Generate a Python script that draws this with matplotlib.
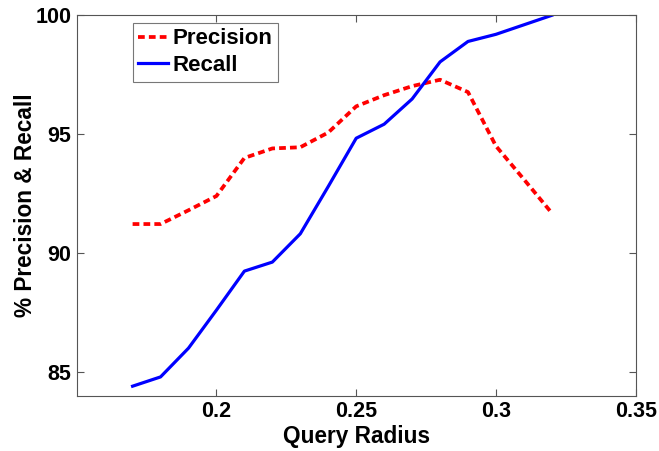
import matplotlib.pyplot as plt

plt.rcParams['font.family'] = ['Liberation Sans', 'DejaVu Sans']
plt.rcParams['font.weight'] = 'bold'
plt.rcParams['font.size'] = 15

radius = [0.17, 0.18, 0.19, 0.20, 0.21, 0.22, 0.23, 0.24,
          0.25, 0.26, 0.27, 0.28, 0.29, 0.30, 0.31, 0.32]
precision = [91.22, 91.22, 91.8, 92.4, 94.0, 94.4, 94.45, 95.07,
             96.17, 96.64, 97.02, 97.29, 96.77, 94.5, 93.1, 91.68]
recall = [84.4, 84.79, 86.0, 87.6, 89.24, 89.62, 90.81, 92.8,
          94.83, 95.42, 96.48, 98.04, 98.9, 99.2, 99.6, 100.0]

xticks = [0.2, 0.25, 0.3, 0.35]
xlabels = ['0.2', '0.25', '0.3', '0.35']
yticks = [85, 90, 95, 100]

fig = plt.figure(figsize=(6.59, 4.51), dpi=100)
ax = fig.add_axes([76.7 / 659, 1 - 395.7 / 451, 559 / 659, 380.4 / 451])

ax.plot(radius, precision, color='red', linestyle=(0, (1.8, 1.1)), linewidth=2.7,
        label='Precision')
ax.plot(radius, recall, color='blue', linewidth=2.3, label='Recall')

ax.set_xlim(0.15, 0.35)
ax.set_ylim(84, 100)
ax.set_xticks(xticks)
ax.set_xticklabels(xlabels)
ax.set_yticks(yticks)
ax.tick_params(direction='in', top=True, right=True, length=5, width=0.8,
               color='#555555', labelsize=15.5, pad=4)
for s in ax.spines.values():
    s.set_color('#555555')
    s.set_linewidth(0.8)

ax.set_xlabel('Query Radius', fontsize=16.3, fontweight='bold', labelpad=2)
ax.set_ylabel('% Precision & Recall', fontsize=16.3, fontweight='bold', labelpad=-1)

leg = ax.legend(loc='upper left', bbox_to_anchor=(0.1, 0.98), fancybox=False,
                handlelength=1.35, handletextpad=0.2, borderpad=0.25,
                labelspacing=0.25, borderaxespad=0, prop={'weight': 'bold', 'size': 16})
leg.get_frame().set_edgecolor('#555555')
leg.get_frame().set_linewidth(0.8)

fig.savefig('out.png', dpi=100)
